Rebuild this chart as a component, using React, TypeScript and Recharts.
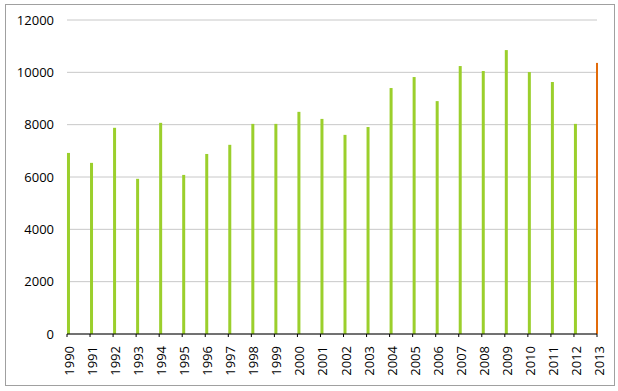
import { ComposedChart, Bar, Cell, XAxis, YAxis, CartesianGrid } from "recharts";

const years = [
  1990, 1991, 1992, 1993, 1994, 1995, 1996, 1997, 1998, 1999, 2000, 2001,
  2002, 2003, 2004, 2005, 2006, 2007, 2008, 2009, 2010, 2011, 2012, 2013,
];
const values = [
  6920, 6540, 7880, 5930, 8070, 6080, 6880, 7230, 8030, 8030, 8490, 8220,
  7610, 7910, 9400, 9820, 8900, 10240, 10050, 10850, 10010, 9630, 8030, 10360,
];
const yTicks = [0, 2000, 4000, 6000, 8000, 10000, 12000];
const highlightYear = 2013;

const GREEN = "#9bcf2c";
const ORANGE = "#e26b0a";
const FONT = "'Open Sans', sans-serif";

const W = 618;
const H = 391;
const MARGIN = { top: 20, right: 21, bottom: 0, left: 0 };
const PLOT_RIGHT = W - MARGIN.right;

const data = years.map((year, i) => ({ year, value: values[i] }));

function YearTick(props: any) {
  const { x, y, payload } = props;
  const tx = x + 7;
  const ty = y + 7;
  return (
    <text
      x={tx}
      y={ty}
      transform={`rotate(-90, ${tx}, ${ty})`}
      textAnchor="end"
      fontSize={13}
      fontFamily={FONT}
      fill="#000"
    >
      {payload.value}
    </text>
  );
}

// Excel draws each bar starting at its tick; the last one is squeezed against the plot edge
function ThinBar(props: any) {
  const { x, y, width, height, fill } = props;
  if (!height) return null;
  const x1 = Math.min(x + width * 1.5, PLOT_RIGHT + 1);
  const x0 = Math.min(x + width / 2, x1 - 2);
  return <rect x={x0} y={y} width={x1 - x0} height={height} fill={fill} />;
}

export default function App() {
  return (
    <div style={{ position: "absolute", left: 0, top: 0, width: W, height: H, background: "#fff" }}>
      <div
        style={{
          position: "absolute",
          left: 5,
          top: 4,
          width: 608,
          height: 380,
          border: "1px solid #a0a0a0",
        }}
      />
      <div style={{ position: "absolute", left: 0, top: 0 }}>
        <ComposedChart width={W} height={H} data={data} margin={MARGIN}>
          <CartesianGrid horizontal vertical={false} stroke="#c8c8c8" />
          <XAxis
            type="number"
            dataKey="year"
            domain={[1990, 2013]}
            ticks={years}
            interval={0}
            height={57}
            tickSize={3}
            stroke="#000"
            tickLine={{ stroke: "#000" }}
            axisLine={{ stroke: "#000" }}
            tick={<YearTick />}
          />
          <YAxis
            width={67}
            domain={[0, 12000]}
            ticks={yTicks}
            axisLine={false}
            tickLine={false}
            tickSize={0}
            tickMargin={13}
            tick={{ fontSize: 13, fontFamily: FONT, fill: "#000" }}
          />
          <Bar dataKey="value" barSize={3} shape={<ThinBar />} isAnimationActive={false}>
            {data.map((d) => (
              <Cell key={d.year} fill={d.year === highlightYear ? ORANGE : GREEN} />
            ))}
          </Bar>
        </ComposedChart>
      </div>
    </div>
  );
}
